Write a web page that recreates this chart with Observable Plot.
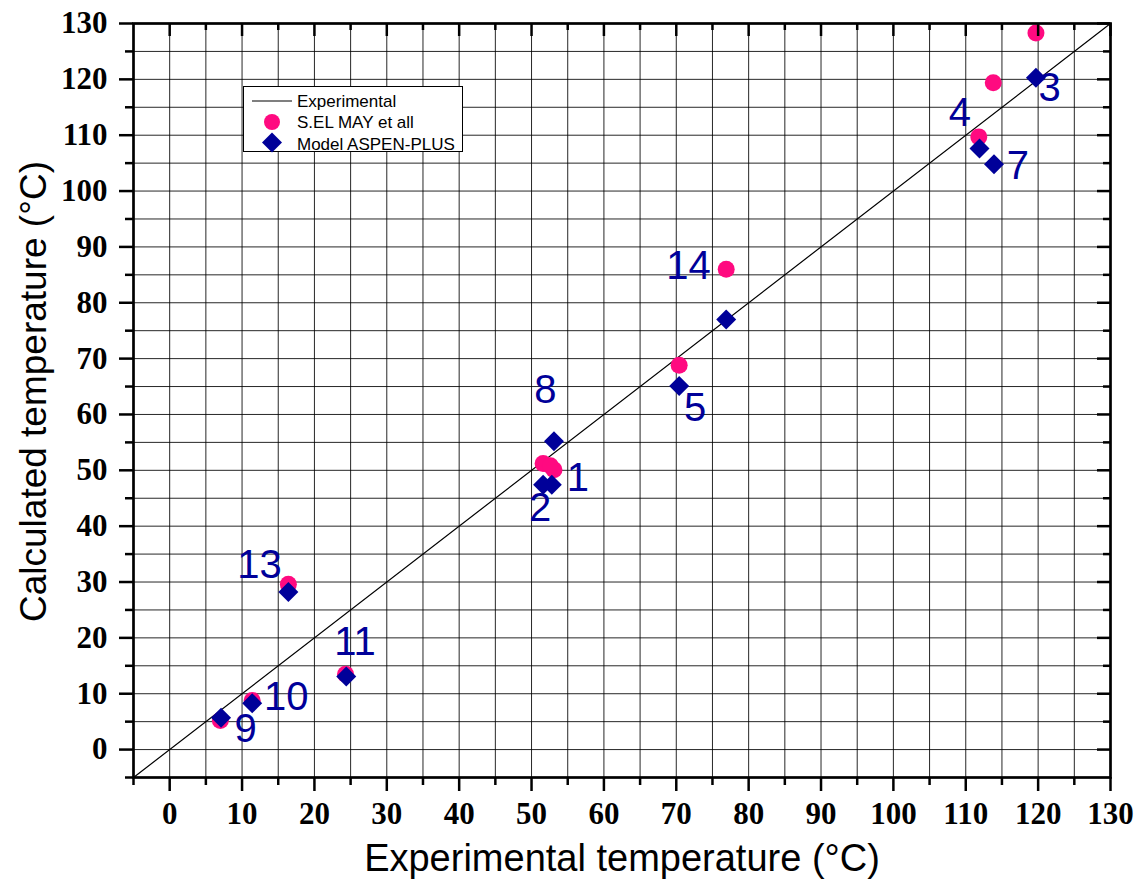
<!DOCTYPE html>
<html><head><meta charset="utf-8">
<script src="https://cdn.jsdelivr.net/npm/d3@7"></script>
<script src="https://cdn.jsdelivr.net/npm/@observablehq/plot@0.6"></script>
<style>
html,body{margin:0;padding:0;background:#fff;}
#wrap{position:relative;width:1145px;height:891px;}
#legend{position:absolute;left:243px;top:86px;}
</style></head><body><div id="wrap"></div>
<script>
// ---- data ----
const pointIds  = ["9","10","13","11","2","1","8","5","14","4","7","3"];
const selMayX   = [7.0, 11.4, 16.4, 24.3, 51.6, 53.1, 52.6, 70.4, 76.9, 111.8, 113.8, 119.7];
const selMayY   = [5.2, 8.8, 29.6, 13.5, 51.2, 50.1, 50.8, 68.8, 86.0, 109.7, 119.4, 128.3];
const aspenX    = [7.1, 11.4, 16.4, 24.4, 51.6, 52.8, 53.1, 70.4, 76.9, 111.9, 113.9, 119.7];
const aspenY    = [5.7, 8.3, 28.2, 13.1, 47.4, 47.4, 55.2, 65.1, 77.0, 107.6, 104.8, 120.3];
const labelX    = [10.5, 16.1, 12.4, 25.6, 51.2, 56.4, 51.9, 72.6, 71.7, 109.2, 117.2, 121.6];
const labelY    = [3.6, 9.4, 33.0, 19.3, 43.2, 48.6, 64.4, 61.1, 86.6, 114.0, 104.4, 118.4];
const expLineX  = [-5, 130];
const expLineY  = [-5, 130];
const seriesNames = ["Experimental", "S.EL MAY et all", "Model ASPEN-PLUS"];
const xTitle = "Experimental temperature (°C)";
const yTitle = "Calculated temperature (°C)";
const majorTicks = d3.range(0, 131, 10);
const minorTicks = d3.range(-5, 130, 10);
const gridVals = d3.range(0, 130, 5);

// ---- layout ----
const W = 1145, H = 891, mL = 133, mR = 35, mT = 23, mB = 114;
const innerW = W - mL - mR, innerH = H - mT - mB;
const PINK = "#ff0a80", BLUE = "#000099";
const SANS = "'Liberation Sans', Arial, sans-serif";
const SERIF = "'Liberation Serif', 'Times New Roman', serif";

const selMay = selMayX.map((x, i) => ({x, y: selMayY[i]}));
const aspen = aspenX.map((x, i) => ({x, y: aspenY[i]}));
const labels = pointIds.map((t, i) => ({t, x: labelX[i], y: labelY[i]}));
const expLine = expLineX.map((x, i) => ({x, y: expLineY[i]}));

const chart = Plot.plot({
  width: W, height: H,
  marginLeft: mL, marginRight: mR, marginTop: mT, marginBottom: mB,
  x: {domain: [-5, 130], axis: null},
  y: {domain: [-5, 130], axis: null},
  style: {fontFamily: SERIF, background: "#fff", overflow: "visible"},
  marks: [
    Plot.gridX(gridVals, {stroke: "#000", strokeOpacity: 0.85, strokeWidth: 1}),
    Plot.gridY(gridVals, {stroke: "#000", strokeOpacity: 0.85, strokeWidth: 1}),
    Plot.line(expLine, {x: "x", y: "y", stroke: "#000", strokeWidth: 1.2}),
    Plot.dot(selMay, {x: "x", y: "y", r: 8.5, fill: PINK, stroke: null}),
    Plot.dot(aspen, {x: "x", y: "y", r: 9, symbol: "diamond2", fill: BLUE, stroke: null}),
    Plot.text(labels, {x: "x", y: "y", text: "t", fill: BLUE, fontSize: 40, fontFamily: SANS}),
    // bottom axis (outward)
    Plot.axisX(majorTicks, {anchor: "bottom", tickSize: 14, tickPadding: 10, strokeWidth: 2.5,
      fontSize: 31, fontWeight: "bold", fontFamily: SERIF, label: null}),
    Plot.axisX(minorTicks, {anchor: "bottom", tickSize: 8, strokeWidth: 2.5, tickFormat: () => "", label: null}),
    // left axis (outward)
    Plot.axisY(majorTicks, {anchor: "left", tickSize: 14, tickPadding: 12, strokeWidth: 2.5,
      fontSize: 31, fontWeight: "bold", fontFamily: SERIF, label: null}),
    Plot.axisY(minorTicks, {anchor: "left", tickSize: 8, strokeWidth: 2.5, tickFormat: () => "", label: null}),
    // top & right inward ticks
    Plot.tickX(majorTicks, {x: d => d, insetBottom: innerH - 13, stroke: "#000", strokeWidth: 2.5}),
    Plot.tickX(minorTicks.filter(d => d > -5), {x: d => d, insetBottom: innerH - 7, stroke: "#000", strokeWidth: 2.5}),
    Plot.tickY(majorTicks, {y: d => d, insetLeft: innerW - 13, stroke: "#000", strokeWidth: 2.5}),
    Plot.tickY(minorTicks.filter(d => d > -5), {y: d => d, insetLeft: innerW - 7, stroke: "#000", strokeWidth: 2.5}),
    Plot.frame({stroke: "#000", strokeWidth: 2.7}),
    // axis titles
    Plot.text([xTitle], {text: d => d, frameAnchor: "bottom", dy: 81, lineAnchor: "middle", textAnchor: "middle",
      fontSize: 38, fontFamily: SANS, fill: "#000"}),
    Plot.text([yTitle], {text: d => d, frameAnchor: "left", dx: -99, dy: -9, rotate: -90, lineAnchor: "middle", textAnchor: "middle",
      fontSize: 37, fontFamily: SANS, fill: "#000"})
  ]
});
const wrap = document.getElementById("wrap");
wrap.appendChild(chart);

// legend (overlay inside the plot area)
const lg = d3.create("svg").attr("id", "legend").attr("width", 221).attr("height", 67)
  .style("font-family", SANS).style("font-size", "17px");
lg.append("rect").attr("x", 0.5).attr("y", 0.5).attr("width", 219).attr("height", 65)
  .attr("fill", "#fff").attr("stroke", "#000").attr("stroke-width", 1);
lg.append("line").attr("x1", 9).attr("x2", 49).attr("y1", 15).attr("y2", 15).attr("stroke", "#000").attr("stroke-width", 1.2);
lg.append("circle").attr("cx", 29).attr("cy", 36).attr("r", 8).attr("fill", PINK);
lg.append("path").attr("d", "M29,47 L39,57 L29,67 L19,57 Z").attr("transform", "translate(0,-0.5)").attr("fill", BLUE);
seriesNames.forEach((s, i) => {
  lg.append("text").attr("x", 54).attr("y", [21, 42, 64][i]).attr("fill", "#000").text(s);
});
wrap.appendChild(lg.node());
</script>
</body></html>
